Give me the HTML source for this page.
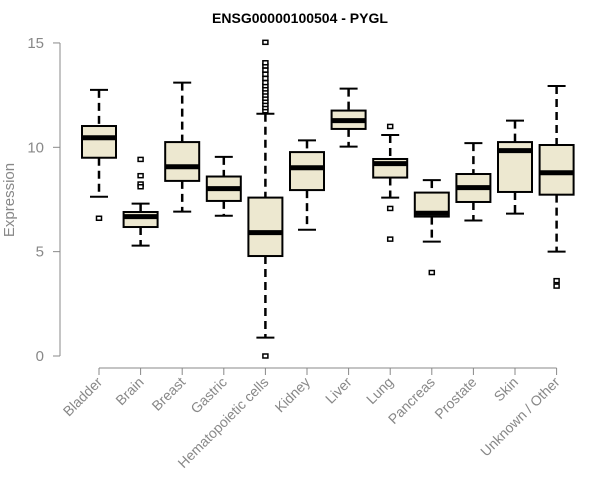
<!DOCTYPE html>
<html><head><meta charset="utf-8"><style>
body{margin:0;background:#fff}
svg{display:block;font-family:"Liberation Sans",Arial,sans-serif}
</style></head><body>
<svg id="c" width="600" height="500">
<text x="300" y="23" text-anchor="middle" font-weight="bold" font-size="14">ENSG00000100504 - PYGL</text>
<text transform="translate(14,200) rotate(-90)" text-anchor="middle" font-size="15" fill="#888">Expression</text>
<g id="plot"></g>
</svg>
<script>
const categories=["Bladder","Brain","Breast","Gastric","Hematopoietic cells","Kidney","Liver","Lung","Pancreas","Prostate","Skin","Unknown / Other"];
const whiskerLow=[7.63,5.29,6.92,6.72,0.88,6.05,10.03,7.59,5.48,6.49,6.82,5.0];
const q1=[9.5,6.18,8.39,7.43,4.79,7.95,10.88,8.55,6.68,7.38,7.86,7.73];
const medians=[10.46,6.68,9.07,8.02,5.91,9.02,11.28,9.22,6.84,8.07,9.84,8.78];
const q3=[11.02,6.9,10.25,8.6,7.59,9.77,11.76,9.44,7.83,8.72,10.25,10.11];
const whiskerHigh=[12.75,7.3,13.1,9.54,11.61,10.33,12.81,10.59,8.43,10.2,11.28,12.94];
const outliers=[[6.6],[9.42,8.64,8.24,8.11],[],[],[0,15.03,11.75,11.9,12.05,12.2,12.35,12.5,12.65,12.8,12.95,13.1,13.3,13.5,13.7,13.9,14.05],[],[],[11.0,7.07,5.6],[4.0],[],[],[3.61,3.35]];
const yTicks=[0,5,10,15];
const NS="http://www.w3.org/2000/svg";
const g=document.getElementById('plot');
const y=v=>356-v*20.87;
const x=i=>99+i*41.6;
function mk(t,a,p){const e=document.createElementNS(NS,t);for(const k in a)e.setAttribute(k,a[k]);(p||g).appendChild(e);return e;}
let ya=mk('line',{x1:60,x2:60,y1:y(0),y2:y(15),stroke:'#888'});


yTicks.forEach(v=>{
 let t=mk('line',{x1:53,x2:60,y1:y(v),y2:y(v),stroke:'#888'});
 
 
 let l=mk('text',{x:44,y:y(v)+5,'text-anchor':'end','font-size':15,fill:'#888'});
 l.textContent=v;
 
 
});
let xa=mk('line',{x1:x(0),x2:x(categories.length-1),y1:368,y2:368,stroke:'#888'});


categories.forEach((c,i)=>{
 const cx=x(i);
 let t=mk('line',{x1:cx,x2:cx,y1:368,y2:375,stroke:'#888'});
 
 
 let l=mk('text',{transform:`translate(${cx+4},${383}) rotate(-45)`,'text-anchor':'end','font-size':14,fill:'#888'});
 l.textContent=c;
 
 
 const bg=mk('g',{});
 
 
 mk('line',{x1:cx,x2:cx,y1:y(whiskerHigh[i]),y2:y(q3[i]),stroke:'#000','stroke-width':2.5,'stroke-dasharray':'8,5'},bg);
 mk('line',{x1:cx,x2:cx,y1:y(q1[i]),y2:y(whiskerLow[i]),stroke:'#000','stroke-width':2.5,'stroke-dasharray':'8,5'},bg);
 mk('line',{x1:cx-9,x2:cx+9,y1:y(whiskerHigh[i]),y2:y(whiskerHigh[i]),stroke:'#000','stroke-width':2},bg);
 mk('line',{x1:cx-9,x2:cx+9,y1:y(whiskerLow[i]),y2:y(whiskerLow[i]),stroke:'#000','stroke-width':2},bg);
 mk('rect',{x:cx-17,y:y(q3[i]),width:34,height:y(q1[i])-y(q3[i]),fill:'#ede8d0',stroke:'#000','stroke-width':2},bg);
 mk('line',{x1:cx-17,x2:cx+17,y1:y(medians[i]),y2:y(medians[i]),stroke:'#000','stroke-width':5},bg);
 outliers[i].forEach(o=>{
  let p=mk('rect',{x:cx-2.5,y:y(o)-2,width:5,height:4,fill:'#fff',stroke:'#000','stroke-width':1.5},bg);
  
  
 });
});
</script>
</body></html>
